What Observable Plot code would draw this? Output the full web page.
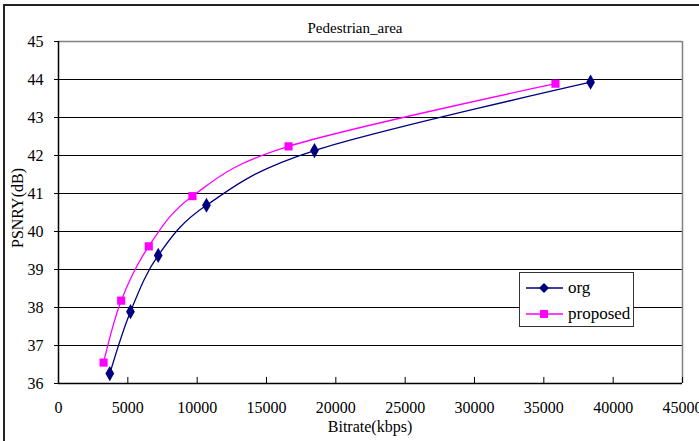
<!DOCTYPE html>
<html>
<head>
<meta charset="utf-8">
<script src="https://cdn.jsdelivr.net/npm/d3@7"></script>
<script src="https://cdn.jsdelivr.net/npm/@observablehq/plot@0.6"></script>
<style>
  html, body { margin: 0; padding: 0; background: #fff; }
  #wrap { position: relative; width: 699px; height: 441px; overflow: hidden; font-family: 'Liberation Serif'; }
  #frame { position: absolute; left: 3px; top: 4px; width: 800px; height: 600px; border: 2px solid #222; box-sizing: border-box; }
  .txt { position: absolute; color: #000; white-space: nowrap; font-family: 'Liberation Serif'; }
  #title { left: 355px; top: 28px; transform: translate(-50%, -50%); font-size: 15px; }
  #xlabel { left: 370px; top: 427px; transform: translate(-50%, -50%); font-size: 16px; }
  #ylabel { left: 18px; top: 208px; transform: translate(-50%, -50%) rotate(-90deg); font-size: 16px; }
  #legend { position: absolute; left: 519px; top: 272px; width: 115px; height: 55px; border: 1px solid #333; background: #fff; box-sizing: border-box; font-size: 17px; font-family: 'Liberation Serif'; }
  #legend .row { position: absolute; left: 6px; height: 20px; display: flex; align-items: center; }
  #legend svg { display: block; }
  #plot { position: absolute; left: 0; top: 0; }
  #plot svg text { font-family: 'Liberation Serif'; }
</style>
</head>
<body>
<div id="wrap">
  <div id="plot"></div>
  <div id="frame"></div>
  <div class="txt" id="title"></div>
  <div class="txt" id="xlabel"></div>
  <div class="txt" id="ylabel"></div>
  <div id="legend"></div>
</div>
<script>
const titleText = "Pedestrian_area";
const xTitle = "Bitrate(kbps)";
const yTitle = "PSNRY(dB)";
const seriesNames = ["org", "proposed"];
const seriesColors = ["#000080", "#ff00ff"];
const seriesSymbols = ["diamond", "square"];

const orgBitrate = [3700, 5190, 7190, 10670, 18460, 38370];
const orgPsnr = [36.26, 37.89, 39.37, 40.69, 42.13, 43.93];
const propBitrate = [3250, 4520, 6510, 9660, 16590, 35840];
const propPsnr = [36.55, 38.18, 39.61, 40.93, 42.24, 43.89];

const xTicks = [0, 5000, 10000, 15000, 20000, 25000, 30000, 35000, 40000, 45000];
const yTicks = [36, 37, 38, 39, 40, 41, 42, 43, 44, 45];

const data = [
  ...orgBitrate.map((b, i) => ({series: seriesNames[0], x: b, y: orgPsnr[i]})),
  ...propBitrate.map((b, i) => ({series: seriesNames[1], x: b, y: propPsnr[i]}))
];

document.getElementById("title").textContent = titleText;
document.getElementById("xlabel").textContent = xTitle;
document.getElementById("ylabel").textContent = yTitle;

const chart = Plot.plot({
  width: 699,
  height: 441,
  marginLeft: 58,
  marginTop: 41,
  marginRight: 17,
  marginBottom: 58,
  style: {fontFamily: "Liberation Serif", fontSize: "16px", background: "transparent", color: "#000", overflow: "visible"},
  x: {domain: [0, 45000]},
  y: {domain: [36, 45]},
  color: {domain: seriesNames, range: seriesColors},
  symbol: {domain: seriesNames, range: seriesSymbols},
  marks: [
    Plot.ruleY(yTicks.filter(d => d > 36 && d < 45), {stroke: "#000", strokeWidth: 1}),
    Plot.ruleY([45], {stroke: "#808080", strokeWidth: 1.5}),
    Plot.ruleX([45000], {stroke: "#808080", strokeWidth: 1.5}),
    Plot.ruleX(xTicks.filter(d => d > 0), {y1: 36, y2: 36.16, stroke: "#000"}),
    Plot.ruleY([36], {stroke: "#000", strokeWidth: 1.5}),
    Plot.ruleX([0], {stroke: "#000", strokeWidth: 1.5}),
    Plot.axisY({ticks: yTicks, tickSize: 4, tickPadding: 11, label: null, fontSize: 16}),
    Plot.axisX({ticks: xTicks, tickSize: 0, tickPadding: 18, label: null, fontSize: 16, tickFormat: d => String(d)}),
    Plot.line(data, {x: "x", y: "y", z: "series", stroke: "series", strokeWidth: 1.3, curve: "cardinal", tension: 0}),
    Plot.dot(data, {x: "x", y: "y", symbol: "series", fill: "series", stroke: "none", r: 4.6})
  ]
});
document.getElementById("plot").appendChild(chart);

// legend
const legend = document.getElementById("legend");
seriesNames.forEach((name, i) => {
  const row = document.createElement("div");
  row.className = "row";
  row.style.top = (i === 0 ? 5 : 31) + "px";
  const sym = i === 0
    ? `<path d="M18,5 L23,10 L18,15 L13,10 Z" fill="${seriesColors[i]}"/>`
    : `<rect x="14" y="6" width="8" height="8" fill="${seriesColors[i]}"/>`;
  row.innerHTML = `<svg width="38" height="20"><line x1="0" y1="10" x2="37" y2="10" stroke="${seriesColors[i]}" stroke-width="1.3"/>${sym}</svg><span style="margin-left:4px">${name}</span>`;
  legend.appendChild(row);
});
</script>
</body>
</html>
